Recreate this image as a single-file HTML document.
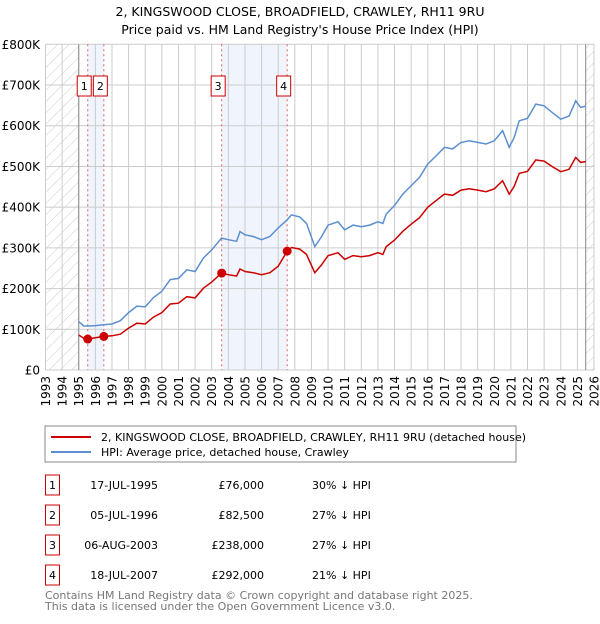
<!DOCTYPE html>
<html><head><meta charset="utf-8"><style>
body{margin:0;background:#fff;width:600px;height:620px;overflow:hidden;font-family:"DejaVu Sans","Liberation Sans",sans-serif;}
svg text{font-family:"DejaVu Sans","Liberation Sans",sans-serif;}
</style></head><body>
<svg id="chart" width="600" height="620" viewBox="0 0 600 620" xmlns="http://www.w3.org/2000/svg">
<defs>
<pattern id="hatch" patternUnits="userSpaceOnUse" width="8" height="8" patternTransform="rotate(45)">
<line x1="0" y1="0" x2="0" y2="8" stroke="#ccc" stroke-width="1"/>
</pattern>
</defs>
<text x="300" y="16" text-anchor="middle" font-size="12.5">2, KINGSWOOD CLOSE, BROADFIELD, CRAWLEY, RH11 9RU</text>
<text x="300" y="34" text-anchor="middle" font-size="12.5">Price paid vs. HM Land Registry's House Price Index (HPI)</text>
<g id="plot"></g>
<g>
<rect x="45" y="426" width="471" height="36" fill="#fff" stroke="#888"/>
<line x1="51" y1="437" x2="91" y2="437" stroke="#cc0000" stroke-width="2"/>
<text x="101" y="441" font-size="11">2, KINGSWOOD CLOSE, BROADFIELD, CRAWLEY, RH11 9RU (detached house)</text>
<line x1="51" y1="452" x2="91" y2="452" stroke="#5b8fd0" stroke-width="2"/>
<text x="101" y="456" font-size="11">HPI: Average price, detached house, Crawley</text>
</g>
<g id="table" font-size="11"></g>
<text x="45" y="599" font-size="11" fill="#777">Contains HM Land Registry data © Crown copyright and database right 2025.</text>
<text x="45" y="610" font-size="11" fill="#777">This data is licensed under the Open Government Licence v3.0.</text>
</svg>
<script>
const years=[1995.0,1995.3,1995.54,1996.0,1996.5,1997,1997.5,1998,1998.5,1999,1999.5,2000,2000.5,2001,2001.5,2002,2002.5,2003,2003.59,2004,2004.5,2004.7,2005,2005.5,2006,2006.5,2007,2007.54,2007.8,2008.3,2008.7,2009.2,2009.6,2010,2010.6,2011,2011.5,2012,2012.5,2013,2013.3,2013.5,2014,2014.5,2015,2015.5,2016,2016.5,2017,2017.5,2018,2018.5,2019,2019.5,2020,2020.5,2020.9,2021.2,2021.5,2022,2022.5,2023,2023.5,2024,2024.5,2024.9,2025.2,2025.5];
const hpiValues=[119,108,108,109,111,113,121,141,157,155,178,193,222,225,246,242,275,295,324,320,316,340,332,328,320,328,349,369,381,376,360,303,327,356,364,344,356,352,356,364,360,383,404,432,453,473,506,526,547,543,559,563,559,555,563,588,547,571,612,618,653,649,632,616,624,661,645,648];
const priceValues=[86,78,76,79,82.5,84,88,103,115,113,130,141,162,164,180,177,201,216,238,234,231,248,242,239,234,239,255,292,301,297,284,239,258,281,288,272,281,278,281,288,284,303,319,341,358,374,400,416,432,429,442,445,442,438,445,465,432,451,483,488,516,513,499,487,493,522,510,512];
const saleYears=[1995.54,1996.51,2003.6,2007.54];
const salePrices=[76,82.5,238,292];
const saleLabels=["1","2","3","4"];
const saleDates=["17-JUL-1995","05-JUL-1996","06-AUG-2003","18-JUL-2007"];
const salePriceText=["£76,000","£82,500","£238,000","£292,000"];
const saleDiff=["30% ↓ HPI","27% ↓ HPI","27% ↓ HPI","21% ↓ HPI"];
const yTicks=[0,100,200,300,400,500,600,700,800];
const yTickLabels=["£0","£100K","£200K","£300K","£400K","£500K","£600K","£700K","£800K"];

const NS="http://www.w3.org/2000/svg";
const X0=45.5,X1=594,Y0=370,Y1=44.3,YR0=1993,YR1=2026,DATA_END=2025.5;
const xs=y=>X0+(y-YR0)*(X1-X0)/(YR1-YR0);
const ys=v=>Y0-v*(Y0-Y1)/800;
const plot=document.getElementById('plot');
function mk(tag,attrs,parent){const e=document.createElementNS(NS,tag);for(const k in attrs)e.setAttribute(k,attrs[k]);(parent||plot).appendChild(e);return e;}

let r=mk('rect',{x:xs(saleYears[0]),y:Y1,width:xs(saleYears[1])-xs(saleYears[0]),height:Y0-Y1,fill:'#f0f4fd'});


r=mk('rect',{x:xs(saleYears[2]),y:Y1,width:xs(saleYears[3])-xs(saleYears[2]),height:Y0-Y1,fill:'#f0f4fd'});


r=mk('rect',{x:X0,y:Y1,width:xs(1995)-X0,height:Y0-Y1,fill:'url(#hatch)'});


r=mk('rect',{x:xs(DATA_END),y:Y1,width:X1-xs(DATA_END),height:Y0-Y1,fill:'url(#hatch)'});



for(let i=0;i<yTicks.length;i++){
  const y=ys(yTicks[i]);
  const l=mk('line',{x1:X0,x2:X1,y1:y,y2:y,stroke:'#ccc','stroke-width':1});
  
  
  const t=mk('text',{x:40,y:y+4.5,'text-anchor':'end','font-size':12});
  
  
  t.textContent=yTickLabels[i];
}
for(let yr=YR0;yr<=YR1;yr++){
  const x=xs(yr);
  const l=mk('line',{x1:x,x2:x,y1:Y1,y2:Y0,stroke:'#ccc','stroke-width':1});
  
  
  const t=mk('text',{x:0,y:0,'text-anchor':'end','font-size':12,transform:`translate(${x+4.5},376) rotate(-90)`});
  
  
  t.textContent=String(yr);
}
let b=mk('line',{x1:xs(1995),x2:xs(1995),y1:Y1,y2:Y0,stroke:'#888'});


b=mk('line',{x1:xs(DATA_END),x2:xs(DATA_END),y1:Y1,y2:Y0,stroke:'#888'});



for(let i=0;i<saleYears.length;i++){
  const x=xs(saleYears[i]);
  const l=mk('line',{x1:x,x2:x,y1:Y1,y2:Y0,stroke:'#e06060','stroke-width':1,'stroke-dasharray':'2,3'});
  
  
}

function path(vals){return years.map((y,i)=>(i?'L':'M')+xs(y).toFixed(1)+','+ys(vals[i]).toFixed(1)).join('');}
const hp=mk('path',{d:path(hpiValues),fill:'none',stroke:'#5b8fd0','stroke-width':1.5});


const pp=mk('path',{d:path(priceValues),fill:'none',stroke:'#cc0000','stroke-width':1.5});



for(let i=0;i<saleYears.length;i++){
  const x=xs(saleYears[i]);
  const c=mk('circle',{cx:x,cy:ys(salePrices[i]),r:4.5,fill:'#cc0000'});
  
  
  const bx=mk('rect',{x:x-10.5,y:76,width:14,height:20,fill:'#fff',stroke:'#cc0000'});
  
  
  const t=mk('text',{x:x-3.5,y:90,'text-anchor':'middle','font-size':11});
  
  
  t.textContent=saleLabels[i];
}

const tb=document.getElementById('table');
const rowY=[485,515,545,575];
for(let i=0;i<saleLabels.length;i++){
  const y=rowY[i];
  const bx=mk('rect',{x:45.5,y:y-10,width:14,height:20,fill:'#fff',stroke:'#cc0000'},tb);
  
  
  const vals=[[52.5,saleLabels[i],'middle','table-sale-number'],[158,saleDates[i],'end','table-sale-date'],[264,salePriceText[i],'end','table-sale-price'],[312,saleDiff[i],'start','table-sale-hpi-diff']];
  for(const v of vals){
    const t=mk('text',{x:v[0],y:y+4,'text-anchor':v[2],'font-size':11},tb);
    
    
    t.textContent=v[1];
  }
}
</script>
</body></html>
